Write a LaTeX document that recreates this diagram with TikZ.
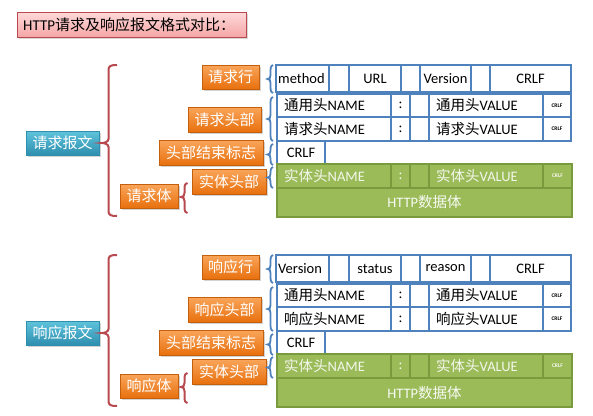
\documentclass[tikz,border=0pt]{standalone}
\usepackage{fontspec}
\setmainfont{Carlito}
\newfontfamily\cjk{Noto Sans CJK SC}
\usetikzlibrary{shadows}
\definecolor{tblue}{HTML}{4F81BD}
\definecolor{tgreen}{HTML}{9BBB59}
\definecolor{tgreenb}{HTML}{7A9A3E}
\definecolor{bred}{HTML}{B84A4F}
\definecolor{orT}{HTML}{F9A55A}
\definecolor{orB}{HTML}{E8700E}
\definecolor{blT}{HTML}{5FC3DC}
\definecolor{blB}{HTML}{2E8FAE}
\definecolor{pkT}{HTML}{FFD9D9}
\definecolor{pkB}{HTML}{F4A6A6}
\newcommand\tinytxt{\fontsize{5.5}{6}\selectfont\bfseries}
\tikzset{
  boxbase/.style={inner sep=0pt, outer sep=0pt, font=\fontsize{15}{17}\selectfont},
  orangebox/.style={boxbase, top color=orT, bottom color=orB, draw=orB!85!black, line width=0.4pt, text=white,
    drop shadow={opacity=0.35, shadow xshift=1.5pt, shadow yshift=-1.5pt}},
  bluebox/.style={boxbase, top color=blT, bottom color=blB, draw=blB, line width=0.4pt, text=white,
    drop shadow={opacity=0.35, shadow xshift=1.5pt, shadow yshift=-1.5pt}},
  titlebox/.style={boxbase, top color=pkT, bottom color=pkB, draw=bred, line width=0.6pt,
    drop shadow={opacity=0.3, shadow xshift=1.5pt, shadow yshift=-1.5pt}},
  wcell/.style={inner sep=0pt, outer sep=0pt, draw=tblue, line width=1.4pt, fill=white, font=\fontsize{14.5}{16}\selectfont},
  gcell/.style={inner sep=0pt, outer sep=0pt, draw=tgreenb, line width=1.2pt, fill=tgreen, text=white!92!tgreen, font=\fontsize{14.5}{16}\selectfont},
  redbrace/.style={draw=bred, line width=2pt},
  bluebrace/.style={draw=tblue, line width=1.8pt},
  celltxt/.style={inner sep=0pt, anchor=west, font=\fontsize{14.5}{16}\selectfont},
}
% \boxat{name}{style}{x1}{y1}{x2}{y2}{text}
\newcommand\boxat[7]{%
  \node[#2, minimum width={(#5-#3)*1pt}, minimum height={(#6-#4)*1pt}] (#1) at ({(#3+#5)/2},{(#4+#6)/2}) {#7};}
% left aligned cell
\newcommand\lcell[7]{%
  \node[#2, minimum width={(#5-#3)*1pt}, minimum height={(#6-#4)*1pt}] (#1) at ({(#3+#5)/2},{(#4+#6)/2}) {};
  \node[celltxt] at ([xshift=7pt]#1.west) {#7};}
% brace: style, x of hook end, x of spine, x of tip, y top, y tip, y bottom
\newcommand\mybrace[7]{%
  \draw[#1] (#2,#5) .. controls ({#3+2},#5) and (#3,{#5+1}) .. (#3,{#5+5})
    -- (#3,{#6-4}) .. controls (#3,{#6-1}) and ({#4+2},#6) .. (#4,#6)
    .. controls ({#4+2},#6) and (#3,{#6+1}) .. (#3,{#6+4})
    -- (#3,{#7-5}) .. controls (#3,{#7-1}) and ({#3+2},#7) .. (#2,#7);}
% one part: #1 prefix, #2 请求/响应, #3 #4 #5 first-row texts
\newcommand\msgpart[5]{%
  \boxat{#1main}{bluebox}{26}{131}{99}{155}{\cjk #2报文}
  \mybrace{redbrace}{117}{108.5}{102}{65}{143}{216}
  \boxat{#1line}{orangebox}{202}{65}{259}{89}{\cjk #2行}
  \boxat{#1head}{orangebox}{188}{107}{261}{132}{\cjk #2头部}
  \boxat{#1end}{orangebox}{159}{140}{263}{165}{\cjk 头部结束标志}
  \boxat{#1ent}{orangebox}{192}{169}{266}{194}{\cjk 实体头部}
  \boxat{#1body}{orangebox}{120}{184}{178}{208}{\cjk #2体}
  \mybrace{redbrace}{187.5}{184.5}{181}{183}{197}{213}
  \mybrace{bluebrace}{273}{270.5}{267.5}{65}{79}{93}
  \mybrace{bluebrace}{273}{270.5}{267.5}{97}{119}{141}
  \mybrace{bluebrace}{273}{270.5}{267.5}{144}{154.5}{165}
  \mybrace{bluebrace}{273}{270.5}{267.5}{167}{177.5}{188}
  % row 1
  \node[wcell, minimum width=54pt, minimum height=27pt] (#1ra) at (303,78.5) {};
  \node[celltxt] at ([xshift=2pt]#1ra.west) {#3};
  \boxat{#1rb}{wcell}{329}{65}{349}{92}{}
  \boxat{#1rc}{wcell}{349}{65}{401}{92}{#4}
  \boxat{#1rd}{wcell}{401}{65}{420}{92}{}
  \boxat{#1re}{wcell}{420}{65}{471}{92}{#5}
  \boxat{#1rf}{wcell}{471}{65}{490}{92}{}
  \boxat{#1rg}{wcell}{490}{65}{571}{92}{CRLF}
  % row 2
  \lcell{#1ga}{wcell}{277}{94}{391}{117}{{\cjk 通用头}NAME}
  \boxat{#1gb}{wcell}{391}{94}{410}{117}{:}
  \boxat{#1gc}{wcell}{410}{94}{429}{117}{}
  \lcell{#1gd}{wcell}{429}{94}{543}{117}{{\cjk 通用头}VALUE}
  \boxat{#1ge}{wcell}{543}{94}{571}{117}{\tinytxt CRLF}
  % row 3
  \lcell{#1ha}{wcell}{277}{117}{391}{141}{{\cjk #2头}NAME}
  \boxat{#1hb}{wcell}{391}{117}{410}{141}{:}
  \boxat{#1hc}{wcell}{410}{117}{429}{141}{}
  \lcell{#1hd}{wcell}{429}{117}{543}{141}{{\cjk #2头}VALUE}
  \boxat{#1he}{wcell}{543}{117}{571}{141}{\tinytxt CRLF}
  % row 4
  \boxat{#1crlf}{wcell}{277}{141}{325}{164}{CRLF}
  % row 5 (green)
  \lcell{#1ea}{gcell}{277}{164}{391}{188}{\color{white!88!tgreen}{\cjk 实体头}NAME}
  \boxat{#1eb}{gcell}{391}{164}{410}{188}{:}
  \boxat{#1ec}{gcell}{410}{164}{429}{188}{}
  \lcell{#1ed}{gcell}{429}{164}{543}{188}{\color{white!88!tgreen}{\cjk 实体头}VALUE}
  \boxat{#1ee}{gcell}{543}{164}{572}{188}{\tinytxt CRLF}
  % row 6
  \boxat{#1data}{gcell}{277}{188}{572}{217}{HTTP{\cjk 数据体}}
}
\begin{document}
\begin{tikzpicture}[x=1pt,y=-1pt]
  \useasboundingbox (0,0) rectangle (593,415);
  \boxat{title}{titlebox}{17}{12}{246}{37}{}
  \node[celltxt, font=\fontsize{15}{17}\selectfont] at ([xshift=6pt]title.west) {HTTP{\cjk 请求及响应报文格式对比：}};
  \msgpart{q}{请求}{method}{URL}{Version}
  \begin{scope}[yshift=-190pt]
    \msgpart{r}{响应}{Version}{status}{reason}
  \end{scope}
\end{tikzpicture}
\end{document}
